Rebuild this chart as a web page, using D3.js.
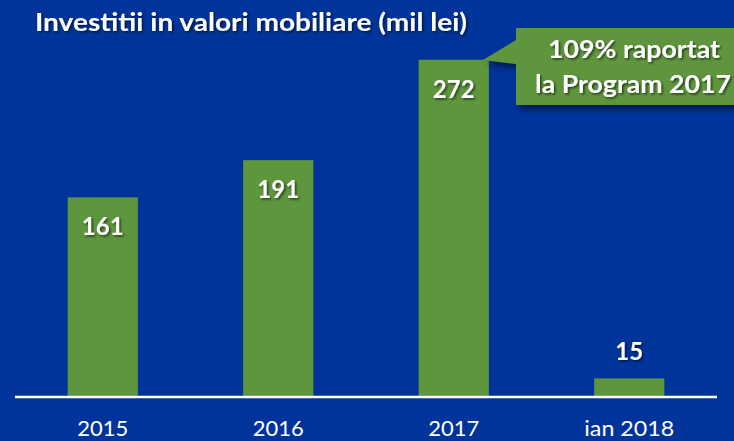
<!DOCTYPE html>
<html><head><meta charset="utf-8">
<script src="https://cdn.jsdelivr.net/npm/d3@7"></script>
<style>
html,body{margin:0;padding:0;background:#00349a;overflow:hidden;}
svg{display:block;}
</style></head>
<body>
<svg id="c" width="734" height="441"></svg>
<script>
const categories = ["2015", "2016", "2017", "ian 2018"];
const values = [161, 191, 272, 15];
const titleText = "Investitii in valori mobiliare (mil lei)";
const calloutLines = ["109% raportat", "la Program 2017"];

const W = 734, H = 441;
const svg = d3.select("#c");
const FONT = "Lato, 'Open Sans', sans-serif";
const defs = svg.append("defs");
const f = defs.append("filter").attr("id","sh").attr("x","-20%").attr("y","-20%").attr("width","140%").attr("height","160%");
f.append("feDropShadow").attr("dx",1.5).attr("dy",1.5).attr("stdDeviation",1.2).attr("flood-color","#000").attr("flood-opacity",0.6);
const f2 = defs.append("filter").attr("id","bsh").attr("x","-20%").attr("y","-20%").attr("width","150%").attr("height","150%");
f2.append("feDropShadow").attr("dx",4).attr("dy",4).attr("stdDeviation",3).attr("flood-color","#000").attr("flood-opacity",0.55);

svg.append("rect").attr("width",W).attr("height",H).attr("fill","#00349a");

const x = d3.scaleBand().domain(categories).range([15, 717]).paddingInner(0.6).paddingOuter(0.3);
const y = d3.scaleLinear().domain([0, 300]).range([397, 397 - 300*1.24]);

const green = "#5e963d";

svg.append("g").selectAll("rect").data(values).join("rect")
  .attr("x",(d,i)=>x(categories[i]))
  .attr("y",d=>y(d))
  .attr("width",x.bandwidth())
  .attr("height",d=>y(0)-y(d))
  .attr("fill",green);

// baseline axis
const axis = d3.axisBottom(x).tickSize(0).tickPadding(0);
const ag = svg.append("g").attr("transform",`translate(0,${y(0)})`).call(axis);
ag.select(".domain").attr("stroke","#fff").attr("stroke-width",2.5).attr("d","M15,0H717");
ag.selectAll(".tick text").attr("fill","#fff").attr("font-family",FONT).attr("font-size",22)
  .attr("dy",0).attr("y",39).attr("text-anchor","middle")
  .attr("textLength",d=> d.length>4 ? 90 : 51).attr("lengthAdjust","spacingAndGlyphs");

// value labels
svg.append("g").selectAll("text").data(values).join("text")
  .attr("x",(d,i)=>x(categories[i])+x.bandwidth()/2)
  .attr("y",d=> d<40 ? y(d)-18 : y(d)+38)
  .attr("text-anchor","middle").attr("fill","#fff").attr("font-family",FONT)
  .attr("font-weight","bold").attr("font-size",24).attr("filter","url(#sh)")
  .text(d=>d);

// title
svg.append("text").attr("x",35).attr("y",31).attr("fill","#fff").attr("font-family",FONT)
  .attr("font-weight","bold").attr("font-size",25).attr("filter","url(#sh)")
  .attr("textLength",432).attr("lengthAdjust","spacingAndGlyphs")
  .text(titleText);

// callout
const cx0 = 516, cy0 = 28, cy1 = 105;
const cg = svg.append("g").attr("filter","url(#bsh)");
cg.append("path")
  .attr("d",`M${cx0},${cy0}H${W+10}V${cy1}H${cx0}V64L483,60L${cx0},40Z`)
  .attr("fill",green);
const cLen = [172, 196];
svg.append("g").selectAll("text").data(calloutLines).join("text")
  .attr("x",(d,i)=> i===0 ? 548 : 535).attr("y",(d,i)=>58+i*35)
  .attr("fill","#fff").attr("font-family",FONT)
  .attr("font-weight","bold").attr("font-size",25).attr("filter","url(#sh)")
  .attr("textLength",(d,i)=>cLen[i]).attr("lengthAdjust","spacingAndGlyphs")
  .text(d=>d);
</script>
</body></html>
